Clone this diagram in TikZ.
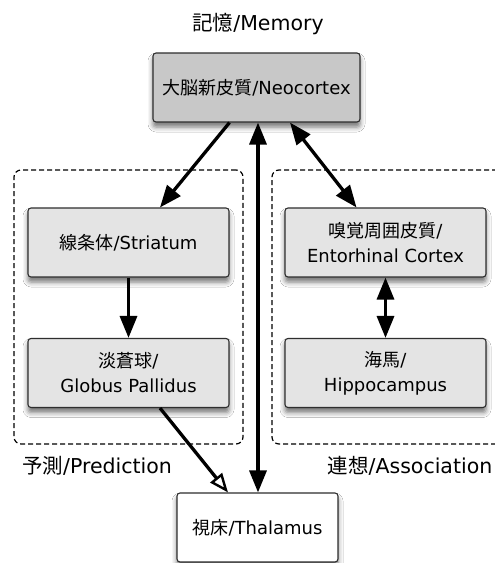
\documentclass[tikz,border=0pt]{standalone}
\usepackage{fontspec}
\setmainfont{DejaVu Sans}
\newfontfamily\cjk{Noto Sans CJK JP}
\usetikzlibrary{arrows.meta,shadows.blur}
\definecolor{neogray}{HTML}{C8C8C8}
\definecolor{boxgray}{HTML}{E4E4E4}
\definecolor{edgegray}{HTML}{2E2E2E}
\begin{document}
\begin{tikzpicture}[x=1pt,y=-1pt,
  box/.style={draw=edgegray, line width=1.1pt, rounded corners=3pt,
    minimum width=201pt, minimum height=69pt, fill=boxgray, align=center,
    inner sep=0pt, font=\fontsize{18}{25}\selectfont,
    blur shadow={shadow xshift=0pt, shadow yshift=-5pt, shadow blur radius=5pt, shadow opacity=55}},
  group/.style={draw=black, line width=1.2pt, dash pattern=on 5pt off 3pt,
    rounded corners=7pt, inner sep=0pt},
  lbl/.style={font=\fontsize{20.5}{24}\selectfont, inner sep=0pt},
  arr/.style={line width=3.3pt, -{Triangle[length=22pt,width=17pt]}},
  darr/.style={line width=3.3pt, {Triangle[length=22pt,width=17pt]}-{Triangle[length=22pt,width=17pt]}},
  oarr/.style={line width=3.3pt, -{Triangle[open,length=19pt,width=15pt,line width=2.4pt]}}
]
\clip (0,0) rectangle (495,563);
\fill[white] (0,0) rectangle (495,563);

\node[group, minimum width=229pt, minimum height=274pt] (pred) at (128.5,307) {};
\node[group, minimum width=240pt, minimum height=274pt] (assoc) at (392,307) {};

\node[lbl] (mem) at (258,24) {{\cjk 記憶}/Memory};
\node[lbl] (predl) at (97,466) {{\cjk 予測}/Prediction};
\node[lbl] (assocl) at (410,466) {{\cjk 連想}/Association};

\node[box, fill=neogray, minimum width=207pt] (neo) at (256.5,87.5) {{\cjk 大脳新皮質}/Neocortex};
\node[box] (str) at (128.5,242.5) {{\cjk 線条体}/Striatum};
\node[box] (glob) at (128.5,373) {{\cjk 淡蒼球}/\\Globus Pallidus};
\node[box] (ent) at (385.5,242.5) {{\cjk 嗅覚周囲皮質}/\\Entorhinal Cortex};
\node[box] (hip) at (385.5,373) {{\cjk 海馬}/\\Hippocampus};
\node[box, fill=white, minimum width=161pt] (thal) at (257.5,527.5) {{\cjk 視床}/Thalamus};

\draw[arr] ([xshift=-27pt]neo.south) -- ([xshift=31.5pt]str.north);
\draw[arr] (str.south) -- (glob.north);
\draw[oarr] ([xshift=31.5pt]glob.south) -- ([xshift=-29.5pt]thal.north);
\draw[darr] ([xshift=0.5pt]thal.north) -- ([xshift=1.5pt]neo.south);
\draw[darr] ([xshift=33.5pt]neo.south) -- ([xshift=-29pt]ent.north);
\draw[darr] (ent.south) -- (hip.north);
\end{tikzpicture}
\end{document}
